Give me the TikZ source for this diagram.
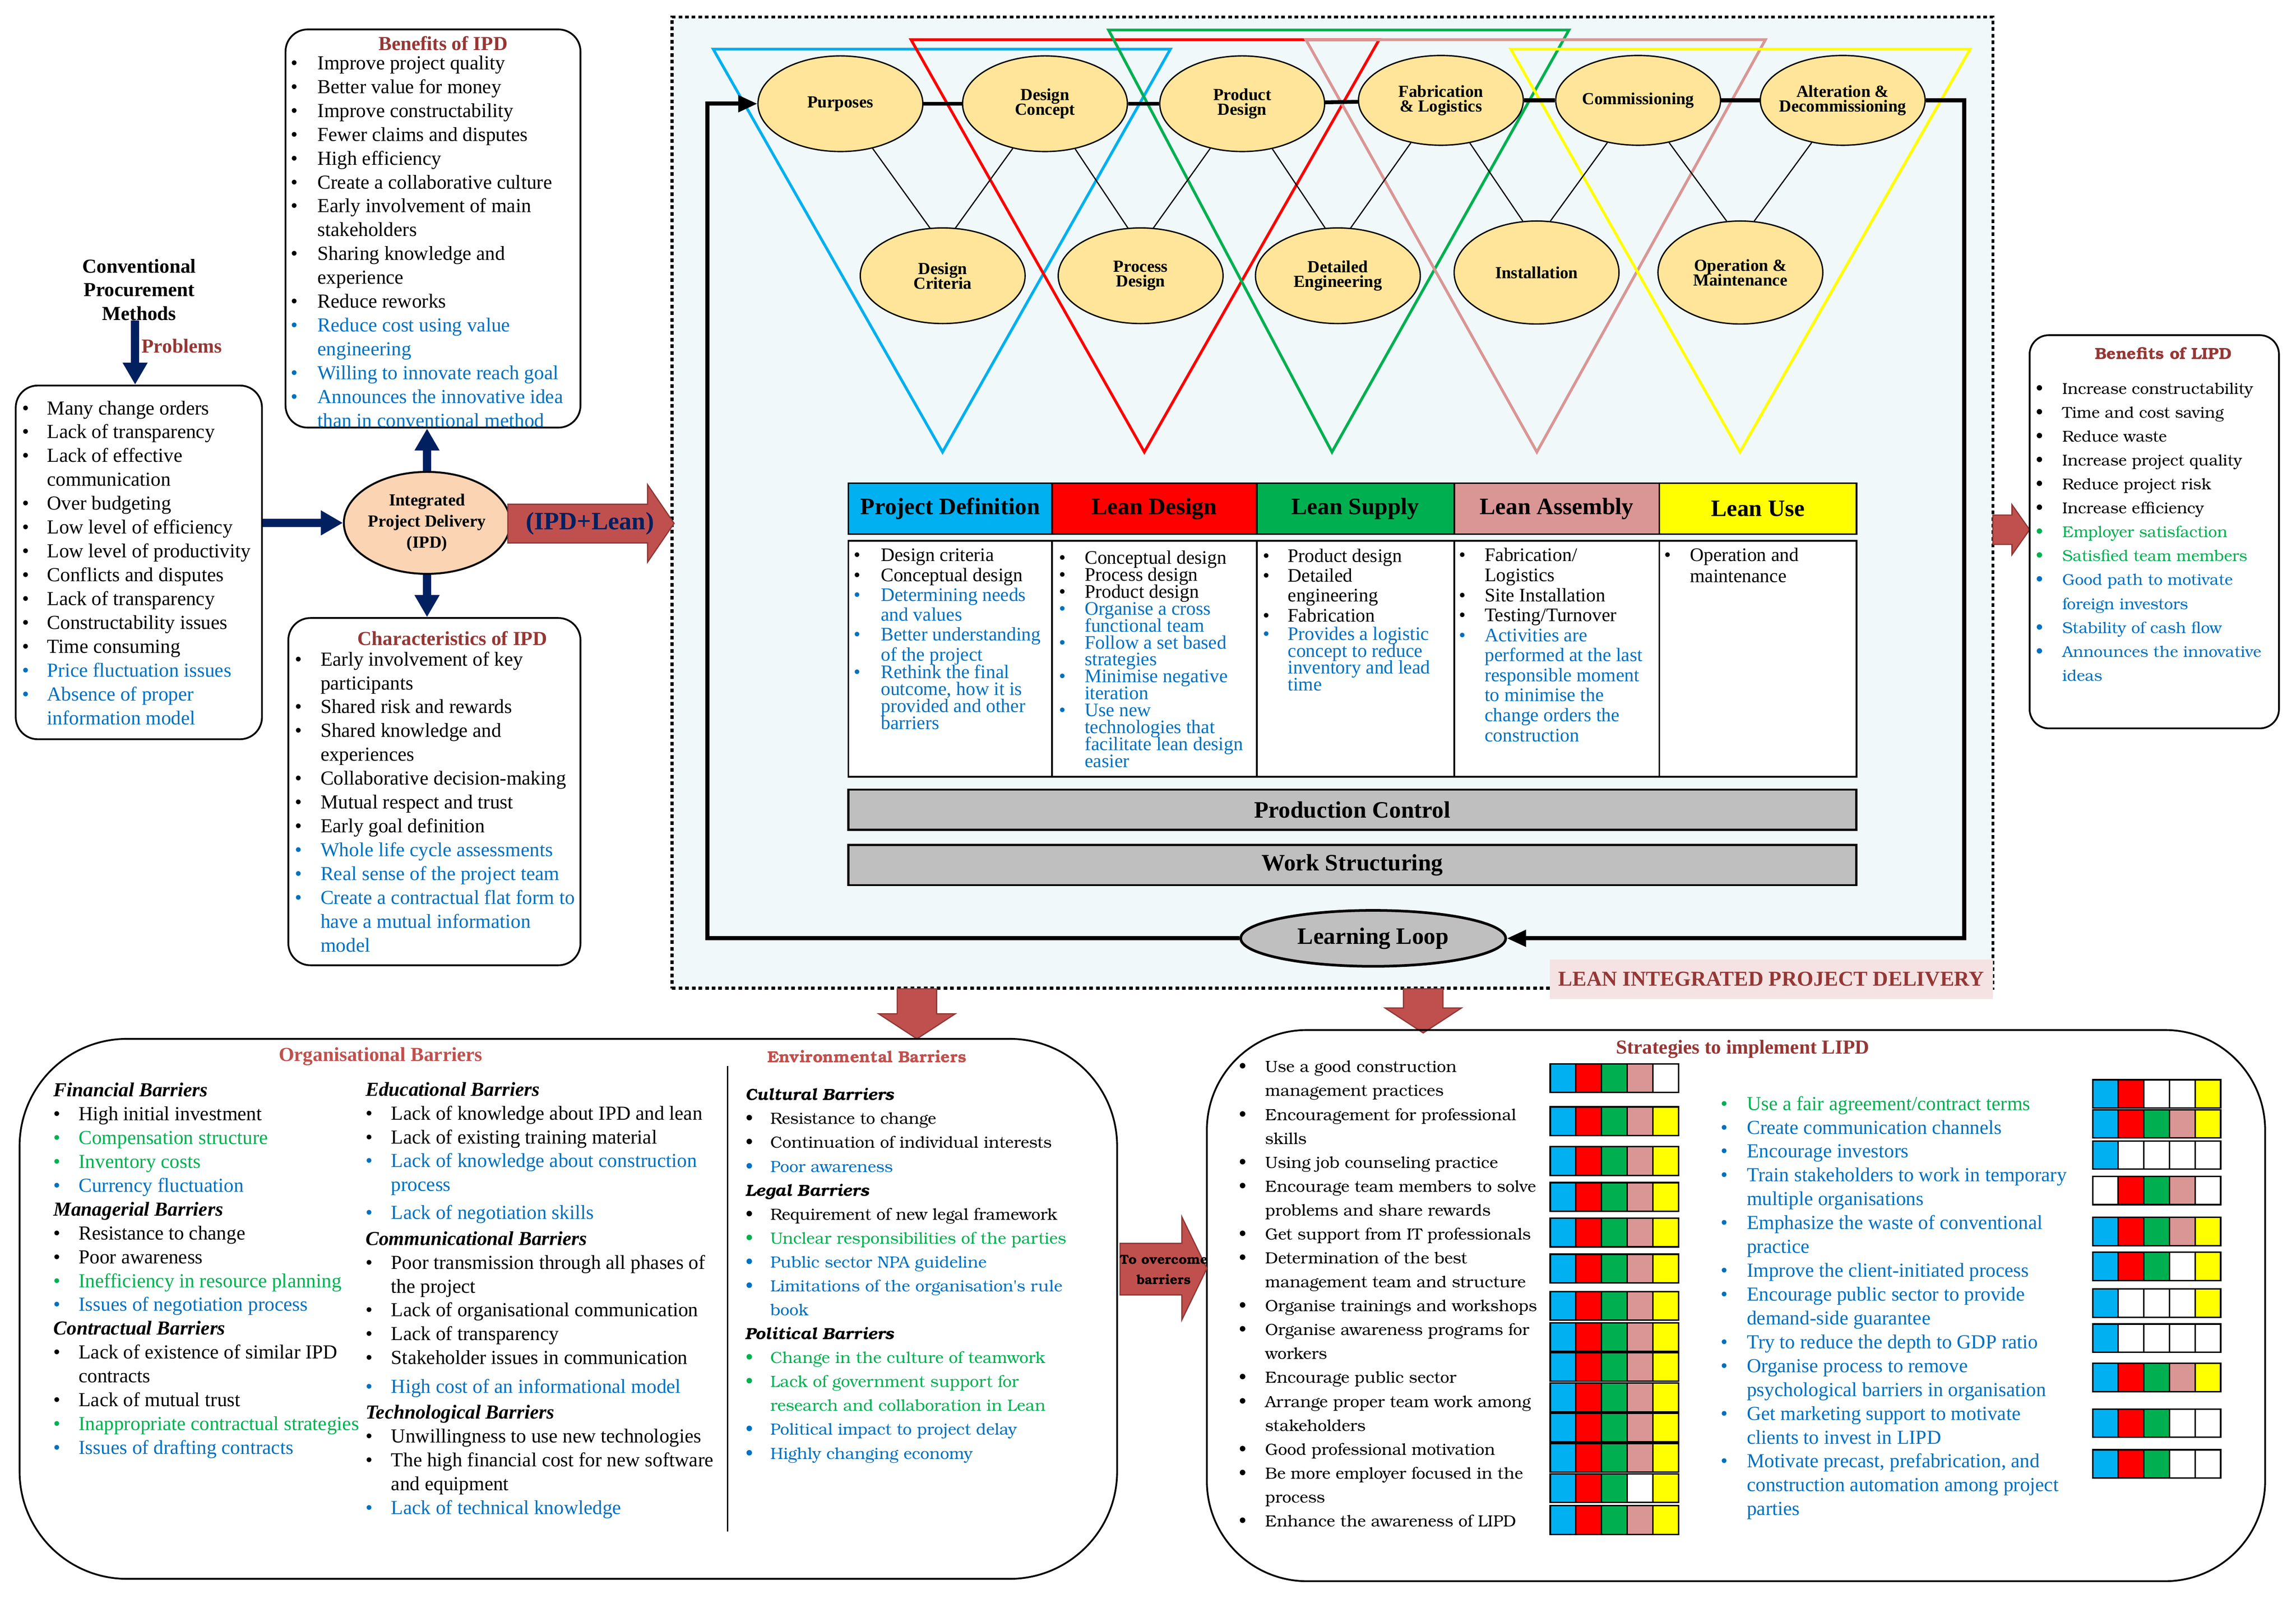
\documentclass[tikz,border=0pt]{standalone}
\usepackage{fontspec}
\setmainfont{Liberation Serif}
\newfontfamily\bookfont{TeX Gyre Bonum}
\usetikzlibrary{arrows.meta,shapes.geometric}

\definecolor{blk}{HTML}{000000}
\definecolor{blu}{HTML}{0070C0}
\definecolor{grn}{HTML}{00B050}
\definecolor{titlered}{HTML}{953735}
\definecolor{barred}{HTML}{C0504D}
\definecolor{arrowedge}{HTML}{8C3836}
\definecolor{navy}{HTML}{002060}
\definecolor{phcyan}{HTML}{00B0F0}
\definecolor{phred}{HTML}{FF0000}
\definecolor{phgreen}{HTML}{00B050}
\definecolor{phpink}{HTML}{D99694}
\definecolor{phyellow}{HTML}{FFFF00}
\definecolor{stagefill}{HTML}{FFE599}
\definecolor{ipdfill}{HTML}{FBD4B4}
\definecolor{loopgray}{HTML}{BFBFBF}
\definecolor{mainfill}{HTML}{F1F8FA}
\definecolor{labelfill}{HTML}{F5E3E3}

\newlength{\bulw}
\newcommand{\bul}[2]{\strut\makebox[\bulw][l]{\textcolor{#1}{\textbullet}}\textcolor{#1}{#2}}
\newcommand{\cnt}[2]{\strut\hspace*{\bulw}\textcolor{#1}{#2}}
\newcommand{\hd}[1]{\strut\textbf{\textit{#1}}}
\newcommand{\listfont}[1]{\fontsize{13.5}{16.2}\selectfont\lineskiplimit=-50pt\setlength{\bulw}{#1}}
\newcommand{\bookls}[2]{\bookfont\fontsize{#1}{16.25}\selectfont\lineskiplimit=-50pt\setlength{\bulw}{#2}}
\newcommand{\tablefont}[2]{\fontsize{13}{#1}\selectfont\lineskiplimit=-50pt\setlength{\bulw}{#2}}

\begin{document}
\begin{tikzpicture}[x=1pt,y=-1pt,
	roundbox/.style={draw=black,line width=1.2pt,rounded corners=#1,inner sep=0pt},
	listtext/.style={anchor=north west,inner sep=0pt,align=left},
	stage/.style={ellipse,draw=black,line width=0.9pt,fill=stagefill,inner xsep=-5pt,inner ysep=0pt,minimum width=112pt,align=center,font={\fontsize{11.5}{10}\selectfont\bfseries\lineskiplimit=-20pt}},
	thinlink/.style={line width=0.8pt},
	stagebar/.style={line width=2.6pt},
	loopline/.style={line width=2.8pt,-{Triangle[length=13pt,width=11pt]}},
	navyarrow/.style={draw=navy,line width=5.5pt,-{Triangle[length=15pt,width=16pt]}},
	blockarrow/.style={fill=barred,draw=arrowedge,line width=0.8pt},
	vtri/.style={line width=1.9pt},
	phasehead/.style={draw=black,line width=1.2pt,inner sep=0pt,minimum height=34.6pt,font={\fontsize{16}{18}\selectfont\bfseries}},
	phasecell/.style={draw=black,line width=1.2pt,fill=white,inner sep=0pt,minimum height=160.4pt},
	graybar/.style={draw=black,line width=1.4pt,fill=loopgray,inner sep=0pt,minimum width=684.9pt,minimum height=27.3pt,font={\fontsize{16}{18}\selectfont\bfseries}},
	titletext/.style={inner sep=0pt,text=titlered,font={\fontsize{13.5}{16}\selectfont\bfseries}},
	gridcell/.style={draw=black,line width=1pt}]
	\useasboundingbox (0,0) rectangle (1560,1086.5);

	\node[draw=black,line width=2pt,dash pattern=on 2.5pt off 2pt,fill=mainfill,inner sep=0pt,minimum width=897.4pt,minimum height=660.1pt] (lipd) at (905.3,341.55) {};

	\draw[vtri,phcyan] (484.6,33.4) -- (795.2,33.4) -- (640.4,307.2) -- cycle;
	\draw[vtri,phred] (619,27) -- (937,27) -- (777.5,307.2) -- cycle;
	\draw[vtri,phgreen] (753.2,20.4) -- (1066,20.4) -- (905,307.2) -- cycle;
	\draw[vtri,phpink] (887.3,27) -- (1199.5,27) -- (1044.2,307.2) -- cycle;
	\draw[vtri,phyellow] (1026.5,33.4) -- (1338.6,33.4) -- (1182.2,307.2) -- cycle;

	\node[stage,minimum height=65pt] (purp) at (571,70.5) {Purposes};
	\node[stage,minimum height=65pt] (dconc) at (710,70.5) {Design\\Concept};
	\node[stage,minimum height=65pt] (pdes) at (844,70.5) {Product\\Design};
	\node[stage,minimum height=61pt] (fabl) at (979,68.2) {Fabrication\\\& Logistics};
	\node[stage,minimum height=61pt] (comm) at (1113,68.2) {Commissioning};
	\node[stage,minimum height=61pt] (alter) at (1252,68.2) {Alteration \&\\Decommissioning};
	\node[stage,minimum height=65pt] (dcrit) at (640.5,187.4) {Design\\Criteria};
	\node[stage,minimum height=65pt] (pdesign) at (775,187.4) {Process\\Design};
	\node[stage,minimum height=65pt] (deteng) at (909,187.4) {Detailed\\Engineering};
	\node[stage,minimum height=70pt] (instal) at (1044,185.2) {Installation};
	\node[stage,minimum height=70pt] (opmain) at (1182.5,185.2) {Operation \&\\Maintenance};

	\foreach \a/\b in {purp/dcrit,dconc/pdesign,pdes/deteng,fabl/instal,comm/opmain}
		\draw[thinlink] (\a) -- (\b.105);
	\foreach \a/\b in {dconc/dcrit,pdes/pdesign,fabl/deteng,comm/instal,alter/opmain}
		\draw[thinlink] (\a) -- (\b.75);
	\foreach \a/\b in {purp/dconc,dconc/pdes,pdes/fabl,fabl/comm,comm/alter}
		\draw[stagebar] (\a) -- (\b);

	\node[draw=black,line width=1.8pt,fill=loopgray,ellipse,minimum width=180pt,minimum height=38pt,inner sep=0pt,font={\fontsize{16}{18}\selectfont\bfseries}] (learn) at (933,637.7) {Learning Loop};
	\coordinate (loopl) at (480.5,70.5);
	\coordinate (loopr) at (1334.5,637.7);
	\draw[loopline] (learn.west) -| (loopl) -- (purp.west);
	\draw[loopline] (alter.east) -| (loopr) -- (learn.east);

	\node[phasehead,fill=phcyan,minimum width=138.4pt] (hpd) at (645.6,345.7) {Project Definition};
	\node[phasehead,fill=phred,minimum width=139pt] (hld) at (784.3,345.7) {Lean Design};
	\node[phasehead,fill=phgreen,minimum width=134.2pt] (hls) at (920.9,345.7) {Lean Supply};
	\node[phasehead,fill=phpink,minimum width=139.4pt] (hla) at (1057.7,345.7) {Lean Assembly};
	\node[phasehead,fill=phyellow,minimum width=133.9pt] (hlu) at (1194.35,345.7) {Lean Use};
	\node[phasecell,minimum width=138.4pt] (cpd) at (645.6,447.8) {};
	\node[phasecell,minimum width=139pt] (cld) at (784.3,447.8) {};
	\node[phasecell,minimum width=134.2pt] (cls) at (920.9,447.8) {};
	\node[phasecell,minimum width=139.4pt] (cla) at (1057.7,447.8) {};
	\node[phasecell,minimum width=133.9pt] (clu) at (1194.35,447.8) {};
	\node[graybar] (prodctrl) at (918.85,550.35) {Production Control};
	\node[graybar] (workstr) at (918.85,587.9) {Work Structuring};

	\node[listtext,font={\tablefont{13.5}{18.3pt}}] (tpd) at (580,371.85) {%
		\bul{blk}{Design criteria}\\
		\bul{blk}{Conceptual design}\\
		\bul{blu}{Determining needs}\\
		\cnt{blu}{and values}\\
		\bul{blu}{Better understanding}\\
		\cnt{blu}{of the project}\\[-1.5pt]
		\bul{blu}{Rethink the final}\\[-2pt]
		\cnt{blu}{outcome, how it is}\\[-2pt]
		\cnt{blu}{provided and other}\\[-2pt]
		\cnt{blu}{barriers}};
	\node[listtext,font={\tablefont{11.5}{17.5pt}}] (tld) at (719.3,374.15) {%
		\bul{blk}{Conceptual design}\\
		\bul{blk}{Process design}\\
		\bul{blk}{Product design}\\
		\bul{blu}{Organise a cross}\\
		\cnt{blu}{functional team}\\
		\bul{blu}{Follow a set based}\\
		\cnt{blu}{strategies}\\
		\bul{blu}{Minimise negative}\\
		\cnt{blu}{iteration}\\
		\bul{blu}{Use new}\\
		\cnt{blu}{technologies that}\\
		\cnt{blu}{facilitate lean design}\\
		\cnt{blu}{easier}};
	\node[listtext,font={\tablefont{13.5}{17pt}}] (tls) at (857.8,372.35) {%
		\bul{blk}{Product design}\\
		\bul{blk}{Detailed}\\
		\cnt{blk}{engineering}\\
		\bul{blk}{Fabrication}\\[-1pt]
		\bul{blu}{Provides a logistic}\\[-2pt]
		\cnt{blu}{concept to reduce}\\[-2pt]
		\cnt{blu}{inventory and lead}\\[-2pt]
		\cnt{blu}{time}};
	\node[listtext,font={\tablefont{13.6}{17.5pt}}] (tla) at (991.1,371.8) {%
		\bul{blk}{Fabrication/}\\
		\cnt{blk}{Logistics}\\
		\bul{blk}{Site Installation}\\
		\bul{blk}{Testing/Turnover}\\
		\bul{blu}{Activities are}\\
		\cnt{blu}{performed at the last}\\
		\cnt{blu}{responsible moment}\\
		\cnt{blu}{to minimise the}\\
		\cnt{blu}{change orders the}\\
		\cnt{blu}{construction}};
	\node[listtext,font={\tablefont{14.2}{17.4pt}}] (tlu) at (1130.6,371.4) {%
		\bul{blk}{Operation and}\\
		\cnt{blk}{maintenance}};

	\node[fill=labelfill,inner sep=0pt,minimum width=301pt,minimum height=27pt,text=titlered,font={\fontsize{14.4}{16}\selectfont\bfseries}] (lipdlab) at (1203.5,665.5) {LEAN INTEGRATED PROJECT DELIVERY};

	\node[inner sep=0pt,align=center,font={\fontsize{13.5}{16}\selectfont\bfseries}] (conv) at (94.6,196.9) {Conventional\\Procurement\\Methods};
	\node[titletext] (probl) at (123.5,235) {Problems};
	\node[roundbox=15pt,minimum width=167.3pt,minimum height=240.4pt] (prob) at (94.35,382.2) {};
	\draw[navyarrow] ([xshift=-2.8pt]conv.south) -- ([xshift=-2.8pt]conv.south |- prob.north);
	\node[listtext,font={\listfont{16.75pt}}] (probtext) at (15.05,270.2) {%
		\bul{blk}{Many change orders}\\
		\bul{blk}{Lack of transparency}\\
		\bul{blk}{Lack of effective}\\
		\cnt{blk}{communication}\\
		\bul{blk}{Over budgeting}\\
		\bul{blk}{Low level of efficiency}\\
		\bul{blk}{Low level of productivity}\\
		\bul{blk}{Conflicts and disputes}\\
		\bul{blk}{Lack of transparency}\\
		\bul{blk}{Constructability issues}\\
		\bul{blk}{Time consuming}\\
		\bul{blu}{Price fluctuation issues}\\
		\bul{blu}{Absence of proper}\\
		\cnt{blu}{information model}};

	\node[ellipse,draw=black,line width=1.3pt,fill=ipdfill,minimum width=105.7pt,minimum height=69.3pt,inner sep=0pt,align=center,font={\fontsize{11.5}{14.3}\selectfont\bfseries}] (ipd) at (290.15,355.35) {Integrated\\Project Delivery\\(IPD)};
	\node[roundbox=15pt,minimum width=200.4pt,minimum height=270.6pt] (bipd) at (294.2,155.3) {};
	\node[roundbox=15pt,minimum width=198.5pt,minimum height=236pt] (cipd) at (295.15,538) {};
	\draw[navyarrow] (prob.east |- ipd.west) -- (ipd.west);
	\draw[navyarrow] (ipd.north) -- (ipd.north |- bipd.south);
	\draw[navyarrow] (ipd.south) -- (ipd.south |- cipd.north);

	\node[titletext] (bipdtitle) at (301,29.5) {Benefits of IPD};
	\node[listtext,font={\listfont{18.25pt}}] (bipdtext) at (197.35,35.7) {%
		\bul{blk}{Improve project quality}\\
		\bul{blk}{Better value for money}\\
		\bul{blk}{Improve constructability}\\
		\bul{blk}{Fewer claims and disputes}\\
		\bul{blk}{High efficiency}\\
		\bul{blk}{Create a collaborative culture}\\
		\bul{blk}{Early involvement of main}\\
		\cnt{blk}{stakeholders}\\
		\bul{blk}{Sharing knowledge and}\\
		\cnt{blk}{experience}\\
		\bul{blk}{Reduce reworks}\\
		\bul{blu}{Reduce cost using value}\\
		\cnt{blu}{engineering}\\
		\bul{blu}{Willing to innovate reach goal}\\
		\bul{blu}{Announces the innovative idea}\\
		\cnt{blu}{than in conventional method}};
	\node[titletext] (cipdtitle) at (307.3,433.8) {Characteristics of IPD};
	\node[listtext,font={\listfont{17.35pt}}] (cipdtext) at (200.25,440.9) {%
		\bul{blk}{Early involvement of key}\\
		\cnt{blk}{participants}\\
		\bul{blk}{Shared risk and rewards}\\
		\bul{blk}{Shared knowledge and}\\
		\cnt{blk}{experiences}\\
		\bul{blk}{Collaborative decision-making}\\
		\bul{blk}{Mutual respect and trust}\\
		\bul{blk}{Early goal definition}\\
		\bul{blu}{Whole life cycle assessments}\\
		\bul{blu}{Real sense of the project team}\\
		\bul{blu}{Create a contractual flat form to}\\
		\cnt{blu}{have a mutual information}\\
		\cnt{blu}{model}};

	\filldraw[blockarrow] (345,342.7) -- (440,342.7) -- (440,329.4) -- (458,355.7) -- (440,382) -- (440,369) -- (345,369) -- cycle;
	\node[inner sep=0pt,text=navy,font={\fontsize{17}{17}\selectfont\bfseries}] (ipdlean) at (400.8,355.9) {(IPD+Lean)};

	\filldraw[blockarrow] (1354,350) -- (1367,350) -- (1367,343) -- (1379,360) -- (1367,377) -- (1367,370) -- (1354,370) -- cycle;
	\node[roundbox=13pt,minimum width=169.4pt,minimum height=267.2pt] (blipd) at (1463.7,361.4) {};
	\node[inner sep=0pt,text=titlered,font={\bookfont\fontsize{11}{13}\selectfont\bfseries}] (blipdtitle) at (1469.8,240) {Benefits of LIPD};
	\node[listtext,font={\bookls{10.7}{18pt}}] (blipdtext) at (1383,256.2) {%
		\bul{blk}{Increase constructability}\\
		\bul{blk}{Time and cost saving}\\
		\bul{blk}{Reduce waste}\\
		\bul{blk}{Increase project quality}\\
		\bul{blk}{Reduce project risk}\\
		\bul{blk}{Increase efficiency}\\
		\bul{grn}{Employer satisfaction}\\
		\bul{grn}{Satisfied team members}\\
		\bul{blu}{Good path to motivate}\\
		\cnt{blu}{foreign investors}\\
		\bul{blu}{Stability of cash flow}\\
		\bul{blu}{Announces the innovative}\\
		\cnt{blu}{ideas}};

	\filldraw[blockarrow] (609.6,672) -- (636.4,672) -- (636.4,689) -- (649,689) -- (623,706) -- (597,689) -- (609.6,689) -- cycle;
	\filldraw[blockarrow] (953.6,672) -- (980.4,672) -- (980.4,685) -- (993,685) -- (967,702) -- (941,685) -- (953.6,685) -- cycle;

	\node[roundbox=73pt,minimum width=745.7pt,minimum height=367pt] (barr) at (386.15,889.5) {};
	\draw[line width=1pt] (494.3,724.5) -- (494.3,1040.9);
	\node[titletext,text=barred] (orgtitle) at (258.6,718) {Organisational Barriers};
	\node[inner sep=0pt,text=barred,font={\bookfont\fontsize{11}{13}\selectfont\bfseries}] (envtitle) at (589,718) {Environmental Barriers};
	\node[listtext,font={\listfont{17.05pt}}] (orgone) at (36.25,733.7) {%
		\hd{Financial Barriers}\\
		\bul{blk}{High initial investment}\\
		\bul{grn}{Compensation structure}\\
		\bul{grn}{Inventory costs}\\
		\bul{blu}{Currency fluctuation}\\
		\hd{Managerial Barriers}\\
		\bul{blk}{Resistance to change}\\
		\bul{blk}{Poor awareness}\\
		\bul{grn}{Inefficiency in resource planning}\\
		\bul{blu}{Issues of negotiation process}\\
		\hd{Contractual Barriers}\\
		\bul{blk}{Lack of existence of similar IPD}\\
		\cnt{blk}{contracts}\\
		\bul{blk}{Lack of mutual trust}\\
		\bul{grn}{Inappropriate contractual strategies}\\
		\bul{blu}{Issues of drafting contracts}};
	\node[listtext,font={\listfont{17.35pt}}] (orgtwo) at (248.25,733.26) {%
		\hd{Educational Barriers}\\
		\bul{blk}{Lack of knowledge about IPD and lean}\\
		\bul{blk}{Lack of existing training material}\\
		\bul{blu}{Lack of knowledge about construction}\\
		\cnt{blu}{process}\\[2.8pt]
		\bul{blu}{Lack of negotiation skills}\\[1.4pt]
		\hd{Communicational Barriers}\\
		\bul{blk}{Poor transmission through all phases of}\\
		\cnt{blk}{the project}\\
		\bul{blk}{Lack of organisational communication}\\
		\bul{blk}{Lack of transparency}\\
		\bul{blk}{Stakeholder issues in communication}\\[3.3pt]
		\bul{blu}{High cost of an informational model}\\[1.3pt]
		\hd{Technological Barriers}\\
		\bul{blk}{Unwillingness to use new technologies}\\
		\bul{blk}{The high financial cost for new software}\\
		\cnt{blk}{and equipment}\\
		\bul{blu}{Lack of technical knowledge}};
	\node[listtext,font={\bookls{11}{16.8pt}}] (envtext) at (506.4,736.2) {%
		\hd{Cultural Barriers}\\
		\bul{blk}{Resistance to change}\\
		\bul{blk}{Continuation of individual interests}\\
		\bul{blu}{Poor awareness}\\
		\hd{Legal Barriers}\\
		\bul{blk}{Requirement of new legal framework}\\
		\bul{grn}{Unclear responsibilities of the parties}\\
		\bul{blu}{Public sector NPA guideline}\\
		\bul{blu}{Limitations of the organisation's rule}\\
		\cnt{blu}{book}\\
		\hd{Political Barriers}\\
		\bul{grn}{Change in the culture of teamwork}\\
		\bul{grn}{Lack of government support for}\\
		\cnt{grn}{research and collaboration in Lean}\\
		\bul{blu}{Political impact to project delay}\\
		\bul{blu}{Highly changing economy}};

	\node[roundbox=68pt,minimum width=719pt,minimum height=374.6pt] (strat) at (1179.5,887.3) {};
	\filldraw[blockarrow] (761,845) -- (803,845) -- (803,827) -- (820,862) -- (803,897) -- (803,880) -- (761,880) -- cycle;
	\node[inner sep=0pt,align=center,font={\bookfont\fontsize{9}{13.8}\selectfont\bfseries\lineskiplimit=-20pt}] (overc) at (790.7,862.9) {To overcome\\barriers};
	\node[titletext] (strattitle) at (1184,713) {Strategies to implement LIPD};
	\node[listtext,font={\bookls{11}{17.9pt}}] (stratone) at (841.5,717.2) {%
		\bul{blk}{Use a good construction}\\
		\cnt{blk}{management practices}\\
		\bul{blk}{Encouragement for professional}\\
		\cnt{blk}{skills}\\
		\bul{blk}{Using job counseling practice}\\
		\bul{blk}{Encourage team members to solve}\\
		\cnt{blk}{problems and share rewards}\\
		\bul{blk}{Get support from IT professionals}\\
		\bul{blk}{Determination of the best}\\
		\cnt{blk}{management team and structure}\\
		\bul{blk}{Organise trainings and workshops}\\
		\bul{blk}{Organise awareness programs for}\\
		\cnt{blk}{workers}\\
		\bul{blk}{Encourage public sector}\\
		\bul{blk}{Arrange proper team work among}\\
		\cnt{blk}{stakeholders}\\
		\bul{blk}{Good professional motivation}\\
		\bul{blk}{Be more employer focused in the}\\
		\cnt{blk}{process}\\
		\bul{blk}{Enhance the awareness of LIPD}};
	\node[listtext,font={\listfont{17.7pt}}] (strattwo) at (1169,742.9) {%
		\bul{grn}{Use a fair agreement/contract terms}\\
		\bul{blu}{Create communication channels}\\
		\bul{blu}{Encourage investors}\\
		\bul{blu}{Train stakeholders to work in temporary}\\
		\cnt{blu}{multiple organisations}\\
		\bul{blu}{Emphasize the waste of conventional}\\
		\cnt{blu}{practice}\\
		\bul{blu}{Improve the client-initiated process}\\
		\bul{blu}{Encourage public sector to provide}\\
		\cnt{blu}{demand-side guarantee}\\
		\bul{blu}{Try to reduce the depth to GDP ratio}\\
		\bul{blu}{Organise process to remove}\\
		\cnt{blu}{psychological barriers in organisation}\\
		\bul{blu}{Get marketing support to motivate}\\
		\cnt{blu}{clients to invest in LIPD}\\
		\bul{blu}{Motivate precast, prefabrication, and}\\
		\cnt{blu}{construction automation among project}\\
		\cnt{blu}{parties}};

	\foreach \yt/\ca/\cb/\cc/\cd/\ce in {723/phcyan/phred/phgreen/phpink/white,752.2/phcyan/phred/phgreen/phpink/phyellow,779.3/phcyan/phred/phgreen/phpink/phyellow,803.7/phcyan/phred/phgreen/phpink/phyellow,827.9/phcyan/phred/phgreen/phpink/phyellow,852.4/phcyan/phred/phgreen/phpink/phyellow,877.7/phcyan/phred/phgreen/phpink/phyellow,898.9/phcyan/phred/phgreen/phpink/phyellow,919.2/phcyan/phred/phgreen/phpink/phyellow,940/phcyan/phred/phgreen/phpink/phyellow,960.5/phcyan/phred/phgreen/phpink/phyellow,980.9/phcyan/phred/phgreen/phpink/phyellow,1001.6/phcyan/phred/phgreen/white/phyellow,1023.3/phcyan/phred/phgreen/phpink/phyellow}
	{
		\filldraw[gridcell,fill=\ca] (1053.3,\yt) rectangle ++(17.42,19.5);
		\filldraw[gridcell,fill=\cb] (1070.72,\yt) rectangle ++(17.42,19.5);
		\filldraw[gridcell,fill=\cc] (1088.14,\yt) rectangle ++(17.42,19.5);
		\filldraw[gridcell,fill=\cd] (1105.56,\yt) rectangle ++(17.42,19.5);
		\filldraw[gridcell,fill=\ce] (1122.98,\yt) rectangle ++(17.42,19.5);
	}
	\foreach \yt/\ca/\cb/\cc/\cd/\ce in {733.8/phcyan/phred/white/white/phyellow,754.2/phcyan/phred/phgreen/phpink/phyellow,775.4/phcyan/white/white/white/white,799.5/white/phred/phgreen/phpink/white,827.3/phcyan/phred/phgreen/phpink/phyellow,851/phcyan/phred/phgreen/white/phyellow,876/phcyan/white/white/white/phyellow,899.8/phcyan/white/white/white/white,926.5/phcyan/phred/phgreen/phpink/phyellow,957.6/phcyan/phred/phgreen/white/white,985.3/phcyan/phred/phgreen/white/white}
	{
		\filldraw[gridcell,fill=\ca] (1421.8,\yt) rectangle ++(17.4,19.2);
		\filldraw[gridcell,fill=\cb] (1439.2,\yt) rectangle ++(17.4,19.2);
		\filldraw[gridcell,fill=\cc] (1456.6,\yt) rectangle ++(17.4,19.2);
		\filldraw[gridcell,fill=\cd] (1474,\yt) rectangle ++(17.4,19.2);
		\filldraw[gridcell,fill=\ce] (1491.4,\yt) rectangle ++(17.4,19.2);
	}
\end{tikzpicture}
\end{document}
